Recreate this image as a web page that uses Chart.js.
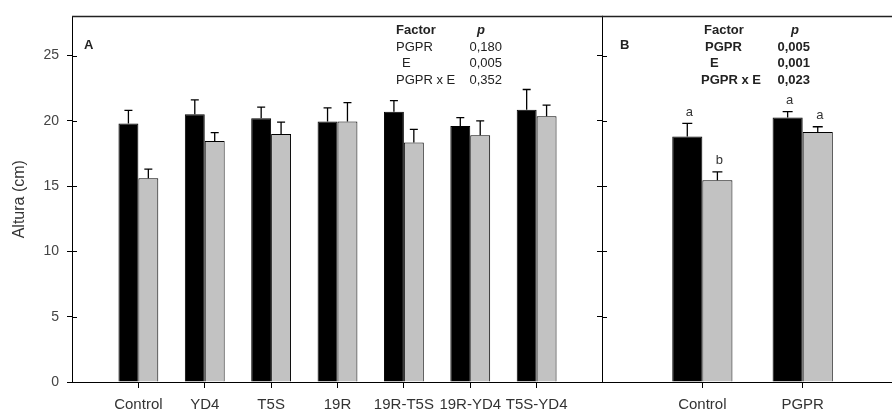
<!DOCTYPE html>
<html>
<head>
<meta charset="utf-8">
<script src="https://cdn.jsdelivr.net/npm/chart.js@4.4.1/dist/chart.umd.min.js"></script>
<style>
  html, body { margin: 0; padding: 0; background: #fff; overflow: hidden; }
  #wrap { position: relative; width: 892px; height: 411px; }
  #panelA { position: absolute; left: 0; top: 0; width: 603px; height: 411px; }
  #panelB { position: absolute; left: 594px; top: 0; width: 298px; height: 411px; }
</style>
</head>
<body>
<div id="wrap">
  <canvas id="panelA" width="603" height="411"></canvas>
  <canvas id="panelB" width="298" height="411"></canvas>
</div>
<script>
// panel A: treatments
const treatments = ["Control", "YD4", "T5S", "19R", "19R-T5S", "19R-YD4", "T5S-YD4"];
const blackA = [19.8, 20.5, 20.2, 19.95, 20.7, 19.6, 20.85];
const blackErrA = [1.0, 1.1, 0.85, 1.05, 0.85, 0.65, 1.55];
const grayA = [15.6, 18.45, 19.0, 19.95, 18.35, 18.9, 20.35];
const grayErrA = [0.7, 0.65, 0.9, 1.45, 1.0, 1.1, 0.85];

// panel B: Control vs PGPR
const groupsB = ["Control", "PGPR"];
const blackB = [18.8, 20.25];
const blackErrB = [1.0, 0.45];
const grayB = [15.45, 19.15];
const grayErrB = [0.65, 0.4];
const lettersBlackB = ["a", "a"];
const lettersGrayB = ["b", "a"];

const yTicks = [0, 5, 10, 15, 20, 25];
const factors = ["PGPR", "E", "PGPR x E"];
const pA = ["0,180", "0,005", "0,352"];
const pB = ["0,005", "0,001", "0,023"];

const FONT = "'Liberation Sans', Arial, sans-serif";

function toPoints(vals) {
    return vals.map((v, i) => ({ x: i + 1, y: v }));
}

function makeDatasets(black, blackErr, gray, grayErr, blackLetters, grayLetters) {
    return [
        {
            data: toPoints(black),
            errors: blackErr,
            letters: blackLetters,
            backgroundColor: "#000000",
            borderColor: "#000000",
            borderWidth: 1,
            barPercentage: 1,
            categoryPercentage: 0.6,
        },
        {
            data: toPoints(gray),
            errors: grayErr,
            letters: grayLetters,
            backgroundColor: "#c2c2c2",
            borderColor: "#000000",
            borderWidth: 1,
            barPercentage: 1,
            categoryPercentage: 0.6,
        },
    ];
}

// error bars, crossing ticks, frame, stats table
const decor = {
    id: "decor",
    afterDatasetsDraw(chart, args, opts) {
        const ctx = chart.ctx;
        const y = chart.scales.y;
        ctx.save();
        ctx.strokeStyle = "#000";
        ctx.lineWidth = 1.3;
        chart.data.datasets.forEach((ds, di) => {
            const meta = chart.getDatasetMeta(di);
            meta.data.forEach((bar, i) => {
                const top = y.getPixelForValue(ds.data[i].y + ds.errors[i]);
                ctx.beginPath();
                ctx.moveTo(bar.x, bar.y);
                ctx.lineTo(bar.x, top);
                ctx.moveTo(bar.x - opts.cap, top);
                ctx.lineTo(bar.x + opts.cap, top);
                ctx.stroke();
                if (ds.letters) {
                    ctx.fillStyle = "#333";
                    ctx.font = "13px " + FONT;
                    ctx.textAlign = "center";
                    ctx.textBaseline = "middle";
                    ctx.fillText(ds.letters[i], bar.x + 2, top - 11);
                }
            });
        });
        ctx.restore();
    },
    afterDraw(chart, args, opts) {
        const ctx = chart.ctx;
        const area = chart.chartArea;
        const y = chart.scales.y;
        ctx.save();
        ctx.strokeStyle = "#000";
        ctx.lineWidth = 1;
        // inner half of the crossing y ticks
        yTicks.forEach(v => {
            if (v === 0) return;
            const py = Math.round(y.getPixelForValue(v)) + 0.5;
            ctx.beginPath();
            ctx.moveTo(area.left, py);
            ctx.lineTo(area.left + 5, py);
            ctx.stroke();
        });
        // top frame line
        ctx.lineWidth = 1.5;
        ctx.strokeStyle = "#222";
        ctx.beginPath();
        ctx.moveTo(area.left, area.top);
        ctx.lineTo(area.right, area.top);
        ctx.stroke();

        // panel letter
        ctx.fillStyle = "#222";
        ctx.font = "bold 13px " + FONT;
        ctx.textAlign = "left";
        ctx.textBaseline = "middle";
        ctx.fillText(opts.panel, opts.panelX, 45);

        // stats table
        const rows = [47, 63, 80];
        ctx.font = "bold 13px " + FONT;
        ctx.fillText("Factor", opts.factorX, 30);
        ctx.font = "italic bold 13px " + FONT;
        ctx.textAlign = "center";
        ctx.fillText("p", opts.pX, 30);
        ctx.font = (opts.bold ? "bold " : "") + "13px " + FONT;
        factors.forEach((f, i) => {
            ctx.textAlign = "left";
            ctx.fillText(f, opts.factorX + (f === "E" ? 6 : 0) + (opts.rowShift[i] || 0), rows[i]);
            ctx.textAlign = "right";
            ctx.fillText(opts.pvals[i], opts.valX, rows[i]);
        });
        ctx.restore();
    },
};

function xAxis(names, max) {
    return {
        type: "linear",
        min: 0,
        max: max,
        offset: false,
        afterBuildTicks: s => { s.ticks = names.map((_, i) => ({ value: i + 1 })); },
        afterFit: s => { s.height = 29; },
        border: { color: "#000", width: 1 },
        grid: { drawOnChartArea: false, offset: false, tickLength: 6, color: "#000" },
        ticks: {
            callback: v => names[v - 1],
            autoSkip: false,
            maxRotation: 0,
            color: "#333",
            padding: 8,
            font: { family: FONT, size: 15 },
        },
    };
}

function yAxis(showLabels, width) {
    return {
        min: 0,
        max: 28,
        afterBuildTicks: s => { s.ticks = yTicks.map(v => ({ value: v })); },
        afterFit: s => { s.width = width; },
        border: { color: "#000", width: 1 },
        grid: { drawOnChartArea: false, tickLength: 5, color: "#000" },
        ticks: {
            callback: v => (showLabels ? v : ""),
            color: "#444",
            padding: 8,
            font: { family: FONT, size: 14 },
        },
        title: {
            display: showLabels,
            text: "Altura (cm)",
            color: "#333",
            font: { family: FONT, size: 16 },
            padding: { top: 10, bottom: 0 },
        },
    };
}

new Chart(document.getElementById("panelA"), {
    type: "bar",
    data: { datasets: makeDatasets(blackA, blackErrA, grayA, grayErrA) },
    options: {
        responsive: false,
        animation: false,
        layout: { padding: { top: 14, right: 0, bottom: 0, left: 0 } },
        scales: { x: xAxis(treatments, 8), y: yAxis(true, 72) },
        plugins: {
            legend: { display: false },
            tooltip: { enabled: false },
            decor: {
                cap: 4, panel: "A", panelX: 84,
                factorX: 396, pX: 481, valX: 502,
                pvals: pA, bold: false, rowShift: [0, 0, 0],
            },
        },
    },
    plugins: [decor],
});

new Chart(document.getElementById("panelB"), {
    type: "bar",
    data: { datasets: makeDatasets(blackB, blackErrB, grayB, grayErrB, lettersBlackB, lettersGrayB) },
    options: {
        responsive: false,
        animation: false,
        layout: { padding: { top: 14, right: 0, bottom: 0, left: 0 } },
        scales: { x: xAxis(groupsB, 2.89), y: yAxis(false, 8) },
        plugins: {
            legend: { display: false },
            tooltip: { enabled: false },
            decor: {
                cap: 5, panel: "B", panelX: 26,
                factorX: 110, pX: 201, valX: 216,
                pvals: pB, bold: true, rowShift: [1, 0, -3],
            },
        },
    },
    plugins: [decor],
});
</script>
</body>
</html>
